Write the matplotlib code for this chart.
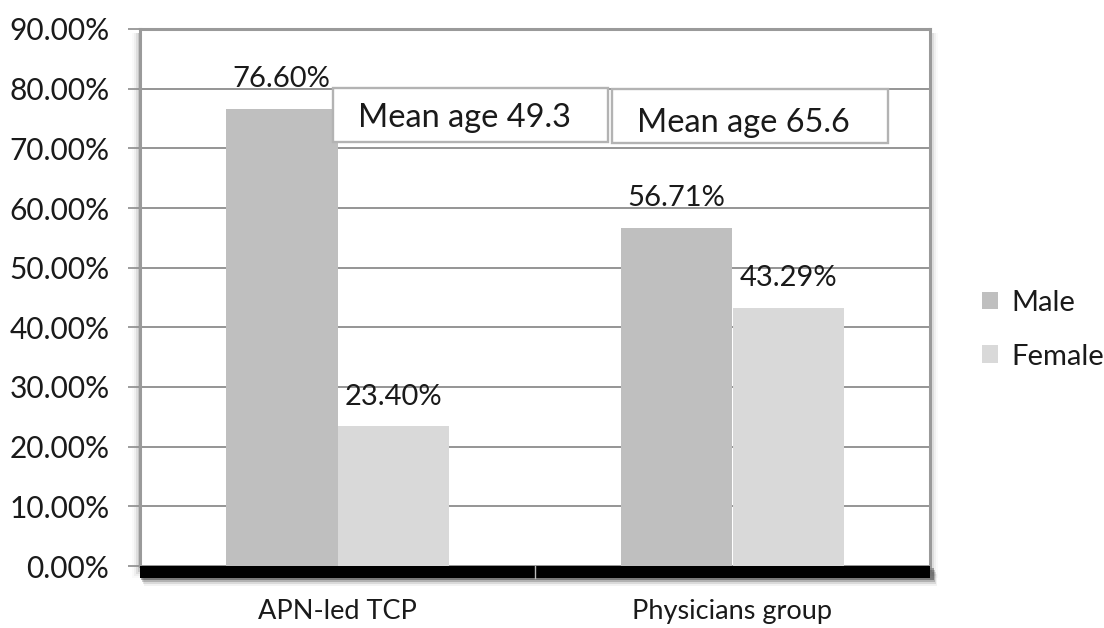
import matplotlib
matplotlib.use("Agg")
import matplotlib.pyplot as plt
from matplotlib.patches import Rectangle
import numpy as np

plt.rcParams['font.family'] = ['Lato', 'DejaVu Sans']

categories = ["APN-led TCP", "Physicians group"]
series_names = ["Male", "Female"]
male = [76.60, 56.71]
female = [23.40, 43.29]
mean_age_labels = ["Mean age 49.3", "Mean age 65.6"]
y_ticks = [0, 10, 20, 30, 40, 50, 60, 70, 80, 90]

male_color = "#bfbfbf"
female_color = "#d9d9d9"
grid_color = "#8c8c8c"
text_color = "#1a1a1a"

fig = plt.figure(figsize=(11.04, 6.28), dpi=100)
ax_left, ax_bottom = 140 / 1104, 62 / 628
ax_w, ax_h = 790 / 1104, 537 / 628
ax = fig.add_axes([ax_left, ax_bottom, ax_w, ax_h])

# soft shadow behind the plot area
for i, a in enumerate([0.10, 0.07, 0.04, 0.02]):
    off = (i + 1) * 2
    fig.patches.append(Rectangle((ax_left - off / 1104, ax_bottom - (off + 4) / 628),
                                 ax_w + 2 * off / 1104, ax_h + off / 628,
                                 transform=fig.transFigure, facecolor="black",
                                 alpha=a, edgecolor="none", zorder=0))
ax.set_zorder(1)
ax.set_facecolor("white")

x = np.arange(len(categories))
bw = 0.2835
bars_m = ax.bar(x - bw / 2, male, bw, color=male_color, label=series_names[0], zorder=2)
bars_f = ax.bar(x + bw / 2, female, bw, color=female_color, label=series_names[1], zorder=2)

ax.set_xlim(-0.5, 1.5)
ax.set_ylim(0, 90)
ax.set_yticks(y_ticks)
ax.set_yticklabels([f"{v:.2f}%" for v in y_ticks], fontsize=21.5, color=text_color)
ax.yaxis.grid(True, color=grid_color, linewidth=1.3, zorder=0)
ax.set_axisbelow(True)
ax.tick_params(axis="y", length=9, width=1.2, color=grid_color, pad=13)
ax.set_xticks(x)
ax.set_xticklabels(categories, fontsize=19.5, color=text_color)
ax.tick_params(axis="x", length=0, pad=24)

for s in ["left", "right", "top"]:
    ax.spines[s].set_color("#9a9a9a")
    ax.spines[s].set_linewidth(2.2)
ax.spines["bottom"].set_visible(False)

# value labels
for bars, vals in [(bars_m, male), (bars_f, female)]:
    for b, v in zip(bars, vals):
        ax.annotate(f"{v:.2f}%", (b.get_x() + b.get_width() / 2, v),
                    xytext=(0, 12), textcoords="offset points",
                    ha="center", va="bottom", fontsize=21, color=text_color, zorder=5)

# mean age boxes
boxes = [(0.244, 0.790, 0.348, 0.100), (0.597, 0.788, 0.350, 0.100)]
text_pos = [(0.276, 0.834), (0.629, 0.825)]
for (bx, by, bwid, bh), (tx, ty), lab in zip(boxes, text_pos, mean_age_labels):
    ax.add_patch(Rectangle((bx, by), bwid, bh, transform=ax.transAxes,
                           facecolor="white", edgecolor="#b3b3b3", linewidth=1.7, zorder=4))
    ax.text(tx, ty, lab, transform=ax.transAxes, ha="left", va="center",
            fontsize=23.4, color=text_color, zorder=6)

# black 3D floor along the category axis
floor_h = 12 / 628
floor_y = ax_bottom - floor_h
for i, a in enumerate([0.30, 0.18, 0.10, 0.05]):
    off = i + 1
    fig.patches.append(Rectangle((ax_left + off / 1104, floor_y - (off * 2) / 628),
                                 ax_w + 3 / 1104, floor_h, transform=fig.transFigure,
                                 facecolor="black", alpha=a, edgecolor="none", zorder=2))
fig.patches.append(Rectangle((ax_left, floor_y), ax_w, floor_h, transform=fig.transFigure,
                             facecolor="black", edgecolor="none", zorder=3))
fig.lines.append(plt.Line2D([535 / 1104, 535 / 1104], [floor_y, floor_y + floor_h],
                            transform=fig.transFigure, color="#bbbbbb", linewidth=1, zorder=4))

leg = ax.legend(loc="center left", bbox_to_anchor=(1.066, 0.440), frameon=False,
                fontsize=21, handlelength=0.55, handleheight=0.55, handletextpad=0.45,
                labelspacing=0.95, borderaxespad=0, borderpad=0)
for t in leg.get_texts():
    t.set_color(text_color)

fig.savefig("out.png", dpi=100, facecolor="white")
